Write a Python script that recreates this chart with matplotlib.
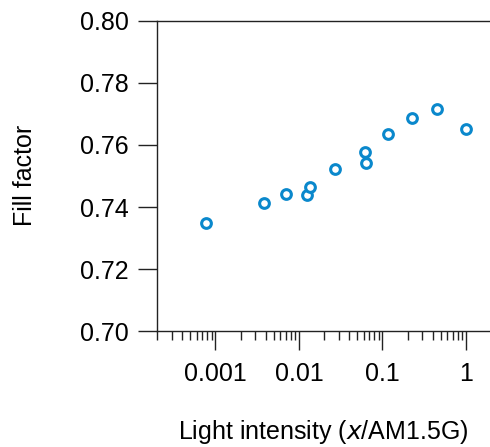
import numpy as np
import matplotlib
matplotlib.use("Agg")
import matplotlib.pyplot as plt
from matplotlib.ticker import LogLocator, FixedLocator, NullFormatter

# light intensity (fraction of AM1.5G) and fill factor
intensity = [0.000765, 0.0038, 0.00698, 0.01248, 0.0134, 0.0268, 0.062, 0.063, 0.115, 0.2255, 0.446, 1.0]
fill_factor = [0.7347, 0.7412, 0.7442, 0.7439, 0.7464, 0.7522, 0.7578, 0.7543, 0.7634, 0.7686, 0.7717, 0.7651]

xticks = [0.001, 0.01, 0.1, 1]
xticklabels = ["0.001", "0.01", "0.1", "1"]
yticks = [0.70, 0.72, 0.74, 0.76, 0.78, 0.80]

plt.rcParams['font.family'] = ['Liberation Sans', 'DejaVu Sans']
fs = 18

W, H = 490, 447
fig = plt.figure(figsize=(W/100., H/100.), dpi=100)
ax = fig.add_axes([157./W, (H-331.)/H, (W-157.)/W, 310./H])

ax.plot(intensity, fill_factor, 'o', ls='none', ms=7, mfc='white',
        mec='#0a88cc', mew=2.2, clip_on=False)

ax.set_xscale('log')
ax.set_xlim(2e-4, 1.94)
ax.set_ylim(0.70, 0.80)

ax.xaxis.set_major_locator(FixedLocator(xticks))
ax.set_xticklabels(xticklabels)
ax.xaxis.set_minor_locator(LogLocator(base=10, subs=np.arange(2, 10)))
ax.xaxis.set_minor_formatter(NullFormatter())
ax.set_yticks(yticks)
ax.set_yticklabels(["%.2f" % v for v in yticks])

ax.spines['right'].set_visible(False)
for side in ['left', 'top', 'bottom']:
    ax.spines[side].set_linewidth(1.0)
    ax.spines[side].set_color('#222222')

ax.tick_params(axis='both', which='major', direction='out', length=13.5, width=1.0,
               color='#222222', labelsize=fs)
ax.tick_params(axis='y', which='major', pad=7)
ax.tick_params(axis='x', which='major', pad=9)
ax.tick_params(axis='x', which='minor', direction='out', length=6.5, width=1.0,
               color='#222222')
ax.tick_params(axis='y', which='minor', left=False)

ax.set_ylabel('Fill factor', fontsize=fs, va='center')
ax.yaxis.set_label_coords(-0.396, 0.503)
ax.set_xlabel('Light intensity ($\\mathit{x}$/AM1.5G)', fontsize=fs, va='center')
ax.xaxis.set_label_coords(0.4985, -0.326)

plt.savefig("out.png", dpi=100)
